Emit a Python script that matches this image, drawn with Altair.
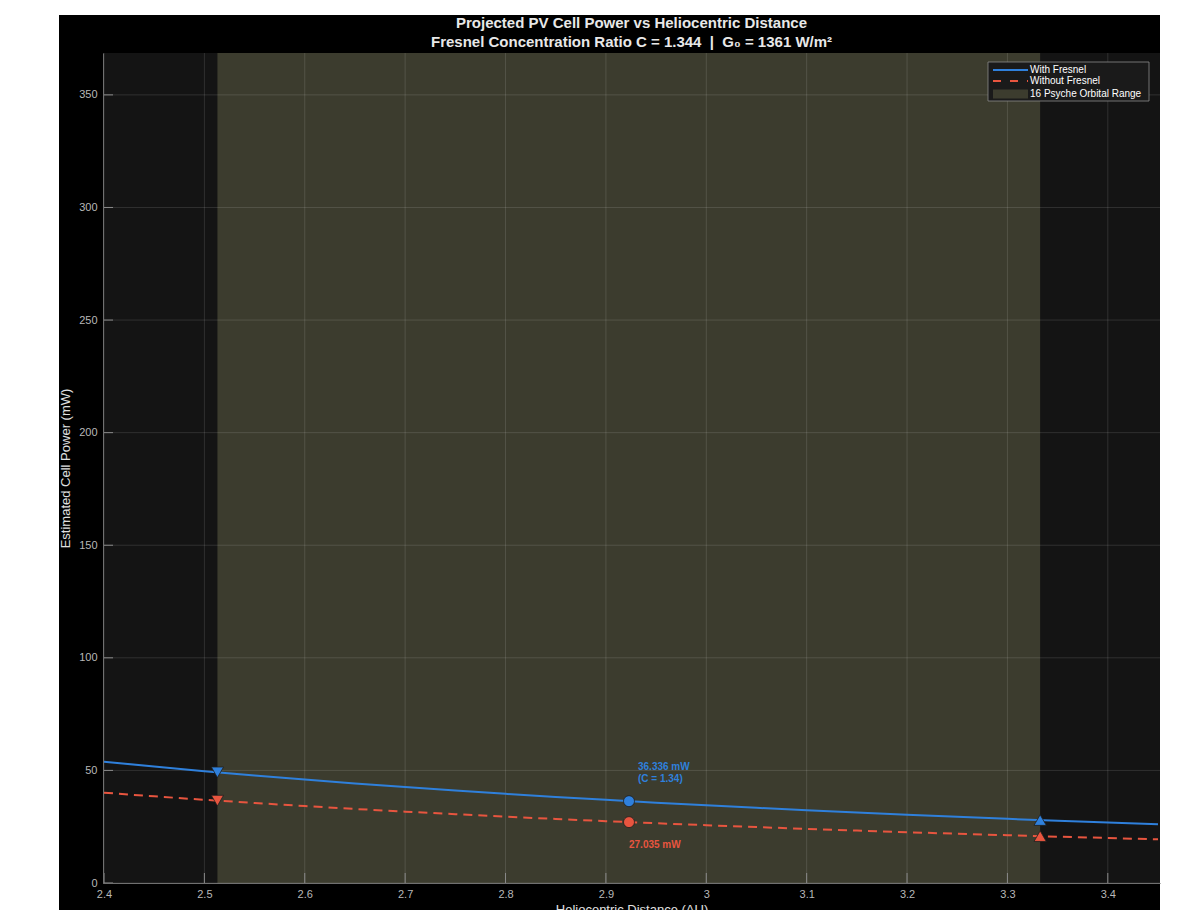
import altair as alt
import pandas as pd

# ---------------- data ----------------
distance_au = [2.40, 2.45, 2.50, 2.55, 2.60, 2.65, 2.70, 2.75, 2.80, 2.85, 2.90,
               2.95, 3.00, 3.05, 3.10, 3.15, 3.20, 3.25, 3.30, 3.35, 3.40, 3.45]
power_with_fresnel = [53.89, 51.72, 49.67, 47.74, 45.92, 44.20, 42.59, 41.05, 39.59, 38.22, 36.92,
                      35.67, 34.50, 33.37, 32.31, 31.29, 30.32, 29.39, 28.51, 27.66, 26.85, 26.09]
power_without_fresnel = [40.10, 38.48, 36.96, 35.52, 34.17, 32.89, 31.69, 30.54, 29.46, 28.44, 27.47,
                         26.54, 25.67, 24.83, 24.04, 23.28, 22.56, 21.87, 21.21, 20.58, 19.98, 19.41]

marker_distance = [2.513, 2.923, 3.3326]
marker_with = [49.16, 36.336, 27.95]
marker_without = [36.58, 27.035, 20.80]
marker_shape = ["triangle-down", "circle", "triangle-up"]
marker_size = [150, 121, 150]

orbit_range = [2.513, 3.3326]
series_names = ["With Fresnel", "Without Fresnel", "16 Psyche Orbital Range"]

annot_with = ["36.336 mW", "(C = 1.34)"]
annot_without = ["27.035 mW"]
annot_x = [2.923]

x_ticks = [2.4, 2.5, 2.6, 2.7, 2.8, 2.9, 3.0, 3.1, 3.2, 3.3, 3.4]
y_ticks = [0, 50, 100, 150, 200, 250, 300, 350]
x_domain = [2.399, 3.452]
y_domain = [0, 368.6]

NB = "\u00a0"
title_lines = ["Projected PV Cell Power vs Heliocentric Distance",
               f"Fresnel Concentration Ratio C = 1.344 {NB}|{NB} G\u2080 = 1361 W/m\u00b2"]

# ---------------- styling ----------------
W, H = 1057, 830
FONT = "Liberation Sans"
BLUE = "#2f80dc"
RED = "#e8553f"
BAND = "#3c3c2e"
PLOT_BG = "#141414"
TOP_FRAME = 38

line_with = pd.DataFrame({"d": distance_au, "power": power_with_fresnel})
line_without = pd.DataFrame({"d": distance_au, "power": power_without_fresnel})
pts_with = pd.DataFrame({"d": marker_distance, "power": marker_with, "shape": marker_shape, "size": marker_size})
pts_without = pd.DataFrame({"d": marker_distance, "power": marker_without, "shape": marker_shape, "size": marker_size})
band_df = pd.DataFrame({"d": [orbit_range[0]], "d_end": [orbit_range[1]]})
one = pd.DataFrame({"k": [0]})
xt_df = pd.DataFrame({"d": x_ticks})
yt_df = pd.DataFrame({"power": y_ticks})
ann_w1 = pd.DataFrame({"d": annot_x, "power": [marker_with[1]], "t": [annot_with[0]]})
ann_w2 = pd.DataFrame({"d": annot_x, "power": [marker_with[1]], "t": [annot_with[1]]})
ann_r = pd.DataFrame({"d": annot_x, "power": [marker_without[1]], "t": [annot_without[0]]})

xs = alt.Scale(domain=x_domain, nice=False, zero=False)
ys = alt.Scale(domain=y_domain, nice=False, zero=False)
x_axis = alt.Axis(values=x_ticks, format="~g", title="Heliocentric Distance (AU)", zindex=1, grid=False)
y_axis = alt.Axis(values=y_ticks, title="Estimated Cell Power (mW)", zindex=1, grid=False)


def X(field="d"):
    return alt.X(f"{field}:Q", scale=xs, axis=x_axis)


def Y(field="power"):
    return alt.Y(f"{field}:Q", scale=ys, axis=y_axis)


frame = alt.Chart(one).mark_rect(color="black").encode(
    x=alt.value(-44), x2=alt.value(W), y=alt.value(-TOP_FRAME), y2=alt.value(H + 40))
plot_bg = alt.Chart(one).mark_rect(color=PLOT_BG).encode(
    x=alt.value(0), x2=alt.value(W), y=alt.value(0), y2=alt.value(H))
band = alt.Chart(band_df).mark_rect(color=BAND).encode(
    x=X("d"), x2="d_end:Q", y=alt.value(0), y2=alt.value(H))

# grid lines (drawn from the tick arrays, above the band, below the legend)
xgrid = alt.Chart(xt_df).mark_rule(color="#ffffff", opacity=0.12, strokeWidth=1).encode(
    x=X(), y=alt.value(0), y2=alt.value(H))
ygrid = alt.Chart(yt_df).mark_rule(color="#ffffff", opacity=0.12, strokeWidth=1).encode(
    y=Y(), x=alt.value(0), x2=alt.value(W))

l_with = alt.Chart(line_with).mark_line(strokeWidth=2, clip=True, color=BLUE).encode(x=X(), y=Y())
l_without = alt.Chart(line_without).mark_line(strokeWidth=2, clip=True, color=RED,
                                              strokeDash=[9, 6]).encode(x=X(), y=Y())

p_with = alt.Chart(pts_with).mark_point(filled=True, opacity=1, stroke="#1e1e1e", strokeWidth=0.8).encode(
    x=X(), y=Y(), fill=alt.value(BLUE),
    shape=alt.Shape("shape:N", scale=None), size=alt.Size("size:Q", scale=None))
p_without = alt.Chart(pts_without).mark_point(filled=True, opacity=1, stroke="#1e1e1e", strokeWidth=0.8).encode(
    x=X(), y=Y(), fill=alt.value(RED),
    shape=alt.Shape("shape:N", scale=None), size=alt.Size("size:Q", scale=None))

t1 = alt.Chart(ann_w1).mark_text(align="left", baseline="middle", dx=9, dy=-34, font=FONT,
                                 fontSize=10, fontWeight="bold", color=BLUE).encode(x=X(), y=Y(), text="t:N")
t2 = alt.Chart(ann_w2).mark_text(align="left", baseline="middle", dx=9, dy=-22, font=FONT,
                                 fontSize=10, fontWeight="bold", color=BLUE).encode(x=X(), y=Y(), text="t:N")
t3 = alt.Chart(ann_r).mark_text(align="left", baseline="middle", dx=0, dy=23, font=FONT,
                                fontSize=10, fontWeight="bold", color=RED).encode(x=X(), y=Y(), text="t:N")

xticks = alt.Chart(xt_df).mark_rule(color="#8a8a8a", strokeWidth=1).encode(
    x=X(), y=alt.value(H), y2=alt.value(H - 10))
yticks = alt.Chart(yt_df).mark_rule(color="#8a8a8a", strokeWidth=1).encode(
    y=Y(), x=alt.value(0), x2=alt.value(10))

# ---------------- legend (box, samples, labels) ----------------
LX, LY = 885, 9
rows_y = [17, 28, 41]
leg_box = alt.Chart(one).mark_rect(fill="#1a1a1a", stroke="#8c8c8c", strokeWidth=0.8).encode(
    x=alt.value(LX), x2=alt.value(LX + 161), y=alt.value(LY), y2=alt.value(LY + 39))
leg_s1 = alt.Chart(one).mark_rule(color=BLUE, strokeWidth=2).encode(
    x=alt.value(LX + 5), x2=alt.value(LX + 40), y=alt.value(rows_y[0]))
leg_s2 = alt.Chart(one).mark_rule(color=RED, strokeWidth=2, strokeDash=[8, 9]).encode(
    x=alt.value(LX + 5), x2=alt.value(LX + 40), y=alt.value(rows_y[1]))
leg_s3 = alt.Chart(one).mark_rect(color=BAND).encode(
    x=alt.value(LX + 5), x2=alt.value(LX + 40), y=alt.value(rows_y[2] - 4.5), y2=alt.value(rows_y[2] + 4.5))
leg_labels = [
    alt.Chart(pd.DataFrame({"t": [name]})).mark_text(
        align="left", baseline="middle", font=FONT, fontSize=10, color="#ffffff").encode(
        x=alt.value(LX + 42), y=alt.value(ry), text="t:N")
    for name, ry in zip(series_names, rows_y)
]

chart = alt.layer(
    frame, plot_bg, band, xgrid, ygrid, l_without, l_with, p_without, p_with, t1, t2, t3,
    xticks, yticks, leg_box, leg_s1, leg_s2, leg_s3, *leg_labels
).properties(
    width=W, height=H,
    autosize=alt.AutoSizeParams(type="none"),
    padding={"left": 95, "top": 45, "right": 22, "bottom": 27},
    background="white",
    title=alt.TitleParams(text=title_lines, fontSize=15, fontWeight="bold", color="#e8e8e8",
                          font=FONT, anchor="middle", frame="group", offset=3 - TOP_FRAME,
                          lineHeight=19),
).configure_view(
    stroke=None
).configure_axis(
    zindex=1, grid=False,
    ticks=False, domain=True, domainColor="#707070", domainWidth=1,
    labelColor="#b8b8b8", labelFont=FONT, labelFontSize=11, labelPadding=5,
    titleColor="#e0e0e0", titleFont=FONT, titleFontSize=13, titleFontWeight="normal",
).configure_axisY(
    labelPadding=6, titlePadding=6
).configure_axisX(
    titlePadding=4
)

chart.save("out.html", embed_options={"renderer": "svg", "actions": False})
